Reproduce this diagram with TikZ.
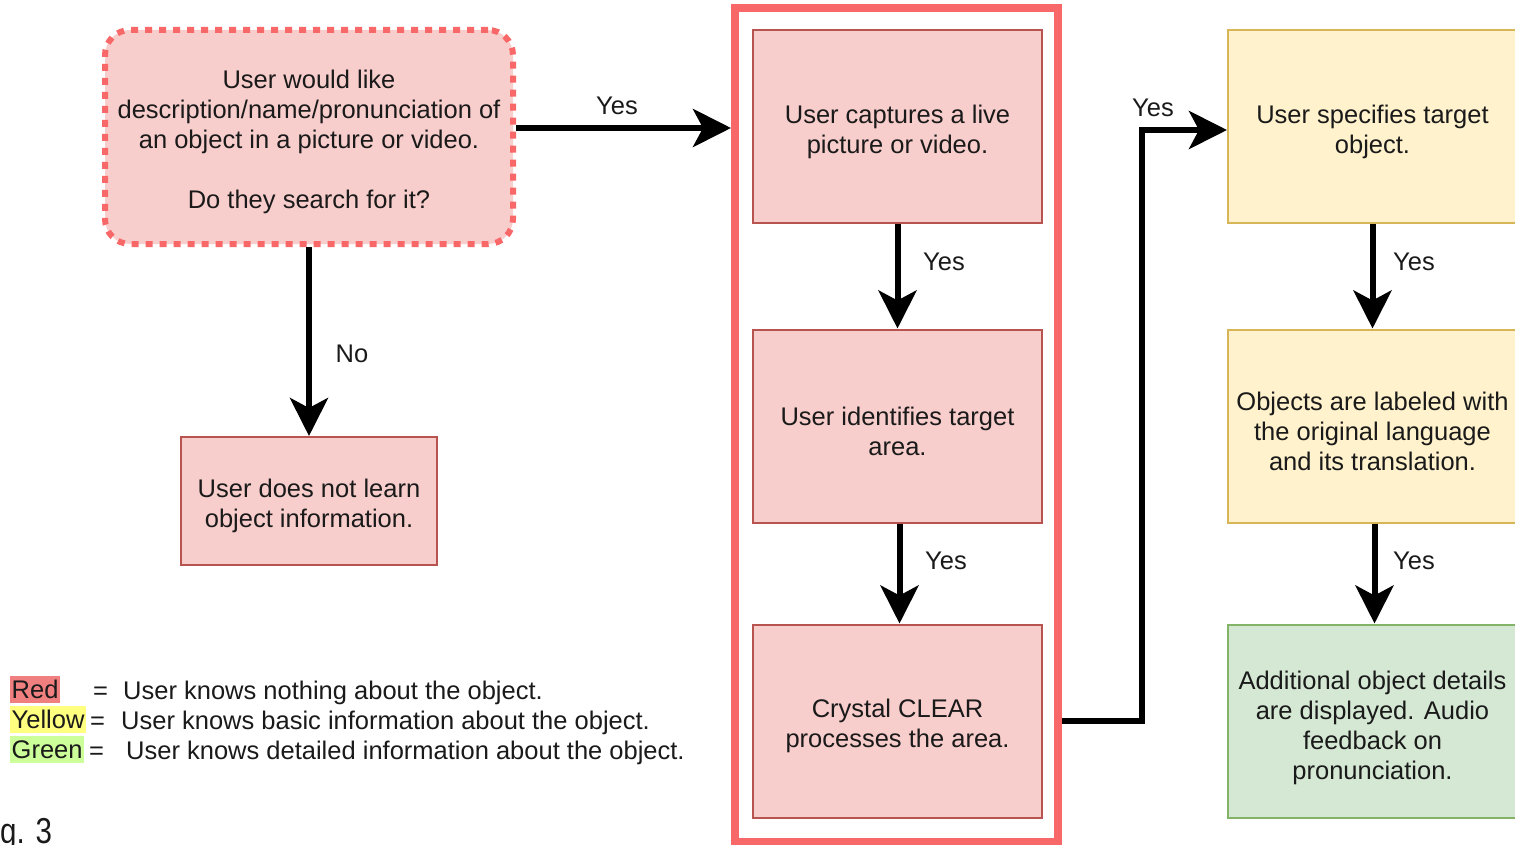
\documentclass[tikz,border=0pt]{standalone}
\usepackage{fontspec}
\setmainfont{Liberation Sans}
\usetikzlibrary{arrows.meta}
\definecolor{fillred}{HTML}{F8CECC}
\definecolor{strokered}{HTML}{B85450}
\definecolor{framered}{HTML}{F86868}
\definecolor{fillyel}{HTML}{FFF2CC}
\definecolor{strokeyel}{HTML}{D6B656}
\definecolor{fillgreen}{HTML}{D5E8D4}
\definecolor{strokegreen}{HTML}{82B366}
\definecolor{legred}{HTML}{F08080}
\definecolor{legyel}{HTML}{FFFF80}
\definecolor{leggreen}{HTML}{CCFF99}
\definecolor{txt}{HTML}{1A1A1A}
\newcommand\mainf{\fontsize{25.5}{30}\selectfont}
\tikzset{
  x=1pt, y=-1pt,
  boxlbl/.style={align=center, text=txt, font=\mainf, inner sep=0pt, yshift=-5pt},
  basebox/.style={line width=2pt, inner sep=0pt,
    minimum width=289pt, minimum height=193pt},
  redbox/.style={basebox, draw=strokered, fill=fillred},
  yelbox/.style={basebox, draw=strokeyel, fill=fillyel},
  greenbox/.style={basebox, draw=strokegreen, fill=fillgreen},
  flow/.style={line width=6pt, -{Stealth[length=38pt,width=38pt,inset=10pt]}},
  lbl/.style={font=\mainf, text=txt, inner sep=0pt},
  legtxt/.style={font=\mainf, text=txt, inner sep=0pt, anchor=base west},
  legkey/.style={text=txt, font=\mainf, inner xsep=1.5pt, minimum height=27pt, anchor=west},
}
\begin{document}
\begin{tikzpicture}
\useasboundingbox (0,0) rectangle (1515,845);
% start decision
\node[draw=framered, fill=fillred, line width=6pt, dash pattern=on 7pt off 7pt,
      rounded corners=25pt, minimum width=408pt, minimum height=214pt, inner sep=0pt,
      label={[boxlbl]center:{User would like\\description/name/pronunciation of\\an object in a picture or video.\\[30pt]Do they search for it?}}]
      (q) at (309,137) {};
% no branch
\node[redbox, minimum width=256pt, minimum height=128pt,
      label={[boxlbl]center:{User does not learn\\object information.}}] (nolearn) at (309,501) {};
% red frame
\node[draw=framered, fill=white, line width=8pt, minimum width=323pt, minimum height=834pt,
      inner sep=0pt] (frame) at (896.5,425) {};
\node[redbox, label={[boxlbl]center:{User captures a live\\picture or video.}}] (c1) at (897.5,126.5) {};
\node[redbox, label={[boxlbl]center:{User identifies target\\area.}}] (c2) at (897.5,426) {};
\node[redbox, label={[boxlbl]center:{Crystal CLEAR\\processes the area.}}] (c3) at (897.5,721) {};
% right column
\node[yelbox, label={[boxlbl]center:{User specifies target\\object.}}] (y1) at (1372.5,126.5) {};
\node[yelbox, label={[boxlbl]center:{Objects are labeled with\\the original language\\and its translation.}}] (y2) at (1372.5,426) {};
\node[greenbox, label={[boxlbl,yshift=-2pt]center:{Additional object details\\are displayed. Audio\\feedback on\\pronunciation.}}] (g1) at (1372.5,721) {};
% connectors
\draw[flow] ([yshift=9pt]q.east) -- ([yshift=9pt]q.east -| frame.west);
\draw[flow] (q.south) -- (nolearn.north);
\draw[flow] (c1.south) -- (c2.north);
\draw[flow] ([xshift=2pt]c2.south) -- ([xshift=2pt]c3.north);
\draw[flow] (frame.east |- c3) -- ++(80,0) |- ([yshift=-3.5pt]y1.west);
\draw[flow] (y1.south) -- (y2.north);
\draw[flow] ([xshift=2pt]y2.south) -- ([xshift=2pt]g1.north);
% labels
\node[lbl] (l1) at (617,106) {Yes};
\node[lbl] (l2) at (352,354) {No};
\node[lbl] (l3) at (944,262) {Yes};
\node[lbl] (l4) at (946,561) {Yes};
\node[lbl] (l5) at (1153,108) {Yes};
\node[lbl] (l6) at (1414,262) {Yes};
\node[lbl] (l7) at (1414,561) {Yes};
% legend
\node[legkey, fill=legred] (kred) at (10,689.5) {Red};
\node[legkey, fill=legyel] (kyel) at (10,719.5) {Yellow};
\node[legkey, fill=leggreen] (kgreen) at (10,749.5) {Green};
\node[legtxt] (e1) at (93,699) {=};
\node[legtxt] (e2) at (90,729) {=};
\node[legtxt] (e3) at (89,759) {=};
\node[legtxt] (d1) at (123,699) {User knows nothing about the object.};
\node[legtxt] (d2) at (121,729) {User knows basic information about the object.};
\node[legtxt] (d3) at (126,759) {User knows detailed information about the object.};
% figure caption fragment
\node[font=\fontsize{36}{42}\selectfont, text=txt, inner sep=0pt, anchor=base west] (fig) at (0,843) {\scalebox{0.82}[1]{g. 3}};
\end{tikzpicture}
\end{document}
